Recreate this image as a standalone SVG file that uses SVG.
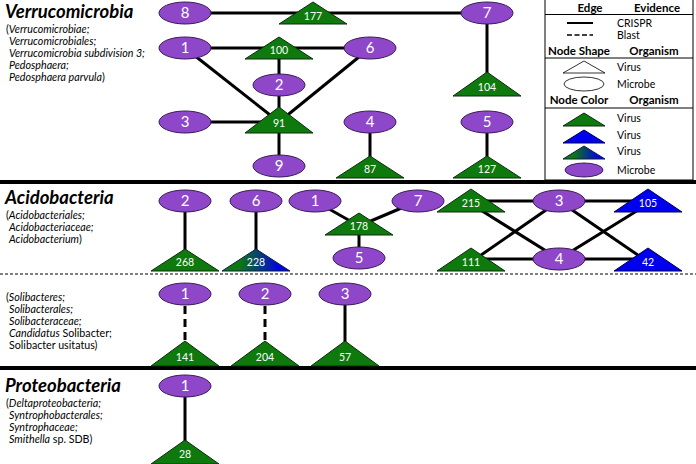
<svg xmlns="http://www.w3.org/2000/svg" width="696" height="464" viewBox="0 0 696 464">
<defs>
<linearGradient id="gb" x1="0" y1="0" x2="1" y2="0">
<stop offset="0.25" stop-color="#0E7A0E"/>
<stop offset="0.85" stop-color="#0000E6"/>
</linearGradient>
<style>
.mic{fill:#8E47C9;stroke:#3b1d57;stroke-width:1}
.vir{fill:#0E7A0E;stroke:#0d2d0d;stroke-width:1}
.vb{fill:#0000EE;stroke:#000050;stroke-width:1}
.vg{fill:url(#gb);stroke:#0d2040;stroke-width:1}
.ml{font-family:Lato,"Liberation Sans",sans-serif;font-size:15px;fill:#fff;text-anchor:middle}
.vl{font-family:Lato,"Liberation Sans",sans-serif;font-size:10.5px;fill:#fff;text-anchor:middle}
.e{stroke:#000;stroke-width:3;fill:none}
.d{stroke-dasharray:8 5}
.t{font-family:Lato,"Liberation Sans",sans-serif;font-weight:bold;font-style:italic;font-size:18.5px;fill:#000}
.s{font-family:Lato,"Liberation Sans",sans-serif;font-size:10.7px;fill:#000}
.i{font-style:italic}
.lh{font-family:Lato,"Liberation Sans",sans-serif;font-weight:bold;font-size:11.5px;fill:#000}
.lt{font-family:Lato,"Liberation Sans",sans-serif;font-size:10.5px;fill:#000}
.div{stroke:#000;stroke-width:4}
</style>
</defs>
<rect width="696" height="464" fill="#fff"/>

<!-- section dividers -->
<line class="div" x1="0" y1="182" x2="696" y2="182"/>
<line x1="0" y1="274" x2="696" y2="274" stroke="#000" stroke-width="1" stroke-dasharray="3 2"/>
<line class="div" x1="0" y1="368" x2="696" y2="368"/>

<!-- taxonomy labels -->
<g id="label-verrucomicrobia">
<text class="t" x="5" y="18.4">Verrucomicrobia</text>
<text class="s" x="6" y="33">(<tspan class="i">Verrucomicrobiae;</tspan></text>
<text class="s i" x="9" y="45">Verrucomicrobiales;</text>
<text class="s i" x="9" y="57">Verrucomicrobia subdivision 3;</text>
<text class="s i" x="9" y="69">Pedosphaera;</text>
<text class="s" x="9" y="81"><tspan class="i">Pedosphaera parvula</tspan>)</text>
</g>
<g id="label-acidobacteria">
<text class="t" x="5" y="203.5">Acidobacteria</text>
<text class="s" x="6" y="218.5">(<tspan class="i">Acidobacteriales;</tspan></text>
<text class="s i" x="9" y="230.5">Acidobacteriaceae;</text>
<text class="s" x="9" y="242.5"><tspan class="i">Acidobacterium</tspan>)</text>
</g>
<g id="label-solibacter">
<text class="s" x="6" y="301">(<tspan class="i">Solibacteres;</tspan></text>
<text class="s i" x="9" y="313">Solibacterales;</text>
<text class="s i" x="9" y="325">Solibacteraceae;</text>
<text class="s" x="9" y="337"><tspan class="i">Candidatus</tspan> Solibacter;</text>
<text class="s" x="9" y="349">Solibacter usitatus)</text>
</g>
<g id="label-proteobacteria">
<text class="t" x="5" y="391.5">Proteobacteria</text>
<text class="s" x="6" y="406.5">(<tspan class="i">Deltaproteobacteria;</tspan></text>
<text class="s i" x="9" y="418.5">Syntrophobacterales;</text>
<text class="s i" x="9" y="430.5">Syntrophaceae;</text>
<text class="s" x="9" y="442.5"><tspan class="i">Smithella</tspan> sp. SDB)</text>
</g>

<!-- connectors -->
<g id="edges">
<line class="e" x1="185" y1="13" x2="487" y2="13"/>
<line class="e" x1="185" y1="48" x2="370" y2="48"/>
<line class="e" x1="279" y1="48" x2="279" y2="166"/>
<line class="e" x1="185" y1="122" x2="279" y2="122"/>
<line class="e" x1="185" y1="48" x2="279" y2="122"/>
<line class="e" x1="370" y1="48" x2="279" y2="122"/>
<line class="e" x1="370" y1="122" x2="370" y2="167"/>
<line class="e" x1="487" y1="122" x2="487" y2="167"/>
<line class="e" x1="487" y1="13" x2="487" y2="85"/>

<line class="e" x1="185" y1="201" x2="185" y2="260"/>
<line class="e" x1="256" y1="201" x2="256" y2="260"/>
<line class="e" x1="315" y1="201" x2="359" y2="226"/>
<line class="e" x1="418" y1="201" x2="359" y2="226"/>
<line class="e" x1="359" y1="226" x2="359" y2="258"/>
<line class="e" x1="471" y1="201" x2="648" y2="201"/>
<line class="e" x1="471" y1="259" x2="648" y2="259"/>
<line class="e" x1="471" y1="204" x2="559" y2="259"/>
<line class="e" x1="559" y1="201" x2="471" y2="262"/>
<line class="e" x1="559" y1="201" x2="648" y2="262"/>
<line class="e" x1="559" y1="259" x2="648" y2="204"/>

<line class="e d" x1="185" y1="306" x2="185" y2="342"/>
<line class="e d" x1="265" y1="306" x2="265" y2="342"/>
<line class="e" x1="345" y1="294" x2="345" y2="350"/>

<line class="e" x1="185" y1="386" x2="185" y2="450"/>
</g>

<!-- Verrucomicrobia nodes -->
<g id="v-m8"><ellipse class="mic" cx="185" cy="13" rx="26" ry="11"/><text class="ml" x="185" y="18">8</text></g>
<g id="v-v177"><polygon class="vir" points="313,2 279,24 347,24"/><text class="vl" x="313" y="20">177</text></g>
<g id="v-m7"><ellipse class="mic" cx="487" cy="13" rx="26" ry="11"/><text class="ml" x="487" y="18">7</text></g>
<g id="v-m1"><ellipse class="mic" cx="185" cy="48" rx="26" ry="11"/><text class="ml" x="185" y="53">1</text></g>
<g id="v-v100"><polygon class="vir" points="279,37 245,59 313,59"/><text class="vl" x="279" y="54">100</text></g>
<g id="v-m6"><ellipse class="mic" cx="370" cy="48" rx="26" ry="11"/><text class="ml" x="370" y="53">6</text></g>
<g id="v-m2"><ellipse class="mic" cx="279" cy="85" rx="26" ry="11"/><text class="ml" x="279" y="90">2</text></g>
<g id="v-m3"><ellipse class="mic" cx="185" cy="122" rx="26" ry="11"/><text class="ml" x="185" y="127">3</text></g>
<g id="v-v91"><polygon class="vir" points="279,107 245,133 313,133"/><text class="vl" x="279" y="127">91</text></g>
<g id="v-m4"><ellipse class="mic" cx="370" cy="122" rx="26" ry="11"/><text class="ml" x="370" y="127">4</text></g>
<g id="v-m5"><ellipse class="mic" cx="487" cy="122" rx="26" ry="11"/><text class="ml" x="487" y="127">5</text></g>
<g id="v-v104"><polygon class="vir" points="487,72 453,96 521,96"/><text class="vl" x="487" y="91">104</text></g>
<g id="v-m9"><ellipse class="mic" cx="279" cy="166" rx="26" ry="11"/><text class="ml" x="279" y="171">9</text></g>
<g id="v-v87"><polygon class="vir" points="370,156 336,178 404,178"/><text class="vl" x="370" y="173">87</text></g>
<g id="v-v127"><polygon class="vir" points="487,156 453,178 521,178"/><text class="vl" x="487" y="173">127</text></g>

<!-- Acidobacteria nodes -->
<g id="a-m2"><ellipse class="mic" cx="185" cy="201" rx="26" ry="11"/><text class="ml" x="185" y="206">2</text></g>
<g id="a-v268"><polygon class="vir" points="185,249 151,271 219,271"/><text class="vl" x="185" y="266">268</text></g>
<g id="a-m6"><ellipse class="mic" cx="256" cy="201" rx="26" ry="11"/><text class="ml" x="256" y="206">6</text></g>
<g id="a-v228"><polygon class="vg" points="256,249 222,271 290,271"/><text class="vl" x="256" y="266">228</text></g>
<g id="a-m1"><ellipse class="mic" cx="315" cy="201" rx="26" ry="11"/><text class="ml" x="315" y="206">1</text></g>
<g id="a-m7"><ellipse class="mic" cx="418" cy="201" rx="26" ry="11"/><text class="ml" x="418" y="206">7</text></g>
<g id="a-v178"><polygon class="vir" points="359,213 325,235 393,235"/><text class="vl" x="359" y="230">178</text></g>
<g id="a-m5"><ellipse class="mic" cx="359" cy="258" rx="26" ry="11"/><text class="ml" x="359" y="263">5</text></g>
<g id="a-v215"><polygon class="vir" points="471,189 437,212 505,212"/><text class="vl" x="471" y="207">215</text></g>
<g id="a-m3"><ellipse class="mic" cx="559" cy="201" rx="26" ry="11"/><text class="ml" x="559" y="206">3</text></g>
<g id="a-v105"><polygon class="vb" points="648,189 614,212 682,212"/><text class="vl" x="648" y="207">105</text></g>
<g id="a-v111"><polygon class="vir" points="471,248 437,271 505,271"/><text class="vl" x="471" y="266">111</text></g>
<g id="a-m4"><ellipse class="mic" cx="559" cy="259" rx="26" ry="11"/><text class="ml" x="559" y="264">4</text></g>
<g id="a-v42"><polygon class="vb" points="648,248 614,271 682,271"/><text class="vl" x="648" y="266">42</text></g>

<!-- Solibacter nodes -->
<g id="s-m1"><ellipse class="mic" cx="185" cy="294" rx="26" ry="11"/><text class="ml" x="185" y="299">1</text></g>
<g id="s-v141"><polygon class="vir" points="185,341 151,366 219,366"/><text class="vl" x="185" y="361">141</text></g>
<g id="s-m2"><ellipse class="mic" cx="265" cy="294" rx="26" ry="11"/><text class="ml" x="265" y="299">2</text></g>
<g id="s-v204"><polygon class="vir" points="265,341 231,366 299,366"/><text class="vl" x="265" y="361">204</text></g>
<g id="s-m3"><ellipse class="mic" cx="345" cy="294" rx="26" ry="11"/><text class="ml" x="345" y="299">3</text></g>
<g id="s-v57"><polygon class="vir" points="345,341 311,366 379,366"/><text class="vl" x="345" y="361">57</text></g>

<!-- Proteobacteria nodes -->
<g id="p-m1"><ellipse class="mic" cx="185" cy="386" rx="26" ry="11"/><text class="ml" x="185" y="391">1</text></g>
<g id="p-v28"><polygon class="vir" points="185,440 151,464 219,464"/><text class="vl" x="185" y="458">28</text></g>

<!-- Legend -->
<g id="legend">
<rect x="545" y="-1" width="148" height="181" fill="#fff" stroke="#000" stroke-width="1"/>
<text class="lh" x="590" y="12" text-anchor="middle">Edge</text>
<text class="lh" x="657" y="12" text-anchor="middle">Evidence</text>
<line x1="545" y1="14.5" x2="693" y2="14.5" stroke="#000" stroke-width="1"/>
<line x1="567" y1="23" x2="593" y2="23" stroke="#000" stroke-width="2"/>
<text class="lt" x="617" y="27">CRISPR</text>
<line x1="567" y1="35" x2="593" y2="35" stroke="#000" stroke-width="1.5" stroke-dasharray="5 2.5"/>
<text class="lt" x="617" y="39">Blast</text>
<text class="lh" x="579" y="55" text-anchor="middle">Node Shape</text>
<text class="lh" x="654" y="55" text-anchor="middle">Organism</text>
<line x1="545" y1="58" x2="693" y2="58" stroke="#000" stroke-width="1"/>
<polygon points="584,61 563,73 605,73" fill="none" stroke="#000" stroke-width="0.8"/>
<text class="lt" x="617" y="71">Virus</text>
<ellipse cx="584" cy="84" rx="20" ry="7" fill="none" stroke="#000" stroke-width="0.8"/>
<text class="lt" x="617" y="88">Microbe</text>
<text class="lh" x="579" y="104" text-anchor="middle">Node Color</text>
<text class="lh" x="654" y="104" text-anchor="middle">Organism</text>
<line x1="545" y1="108" x2="693" y2="108" stroke="#000" stroke-width="1"/>
<polygon class="vir" points="584,113 563,126 605,126"/>
<text class="lt" x="617" y="122">Virus</text>
<polygon class="vb" points="584,130 563,143 605,143"/>
<text class="lt" x="617" y="139">Virus</text>
<polygon class="vg" points="584,146 563,159 605,159"/>
<text class="lt" x="617" y="155">Virus</text>
<ellipse class="mic" cx="584" cy="170" rx="19" ry="7"/>
<text class="lt" x="617" y="174">Microbe</text>
</g>
</svg>
